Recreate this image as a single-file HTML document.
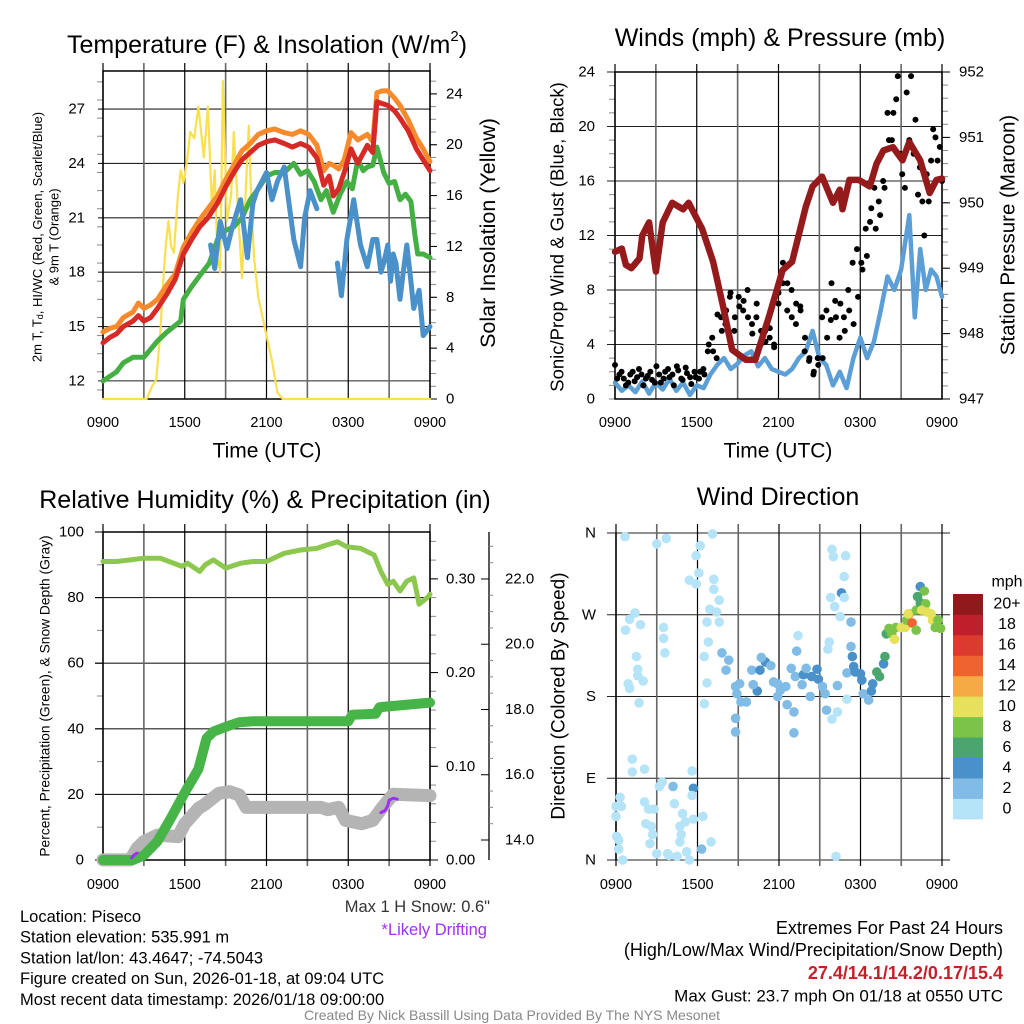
<!DOCTYPE html>
<html><head><meta charset="utf-8"><style>
body{margin:0;background:#fff;width:1024px;height:1024px;overflow:hidden}
svg{display:block;font-family:"Liberation Sans",Arial,sans-serif}
</style></head><body>
<svg id="s" width="1024" height="1024" viewBox="0 0 1024 1024"></svg>
<script>
// ---------- DATA ----------
const xTickLabels=["0900","1500","2100","0300","0900"];
// Top-left: temperature panel
const tHours=[0,0.5,1,1.5,2.2,2.6,3,3.5,4,4.7,5.3,5.9,6.5,7.1,7.7,8.4,9,9.6,10.2,10.8,11.4,12,12.6,13.3,13.9,14.5,15.1,15.7,16.2,16.6,16.9,17.3,17.7,18.2,18.7,19.4,19.8,20.1,20.5,20.9,21.4,21.8,22.4,23,23.5,24];
const tempVals=[14.1,14.4,14.6,15.0,15.3,15.6,15.3,15.5,16.0,16.8,17.6,19.0,19.8,20.5,21.0,21.8,22.7,23.5,24.2,24.6,25.0,25.2,25.3,25.1,24.9,25.1,24.9,24.3,22.8,23.3,22.2,22.6,23.5,24.8,24.0,25.0,24.6,27.4,27.3,27.2,26.9,26.5,25.8,24.8,24.2,23.6];
const t9Vals=[14.7,14.9,15.0,15.5,15.8,16.3,16.0,16.2,16.5,17.3,17.9,19.4,20.2,20.9,21.5,22.2,23.1,23.9,24.7,25.1,25.6,25.8,25.9,25.7,25.6,25.8,25.6,25.0,23.6,24.0,23.9,23.7,24.2,25.7,25.3,25.6,25.2,27.9,28.0,28.0,27.6,27.2,26.4,25.4,24.8,24.1];
const dHours=[0,1,1.5,2.2,3,4,4.7,5.2,5.7,5.9,6.5,7.1,7.8,8.4,9,9.6,10.2,10.8,11.4,12,12.6,13.3,14,14.5,15,15.5,16,16.4,16.9,17.4,17.9,18.3,18.7,19.1,19.4,19.8,20.1,20.6,21,21.4,21.8,22.2,22.6,22.9,23.1,23.5,24];
const dewVals=[12.0,12.5,13.0,13.3,13.3,14.2,14.7,15.0,15.3,16.5,17.2,17.8,18.5,19.8,20.3,20.5,21.0,22.0,22.6,23.3,23.5,23.5,24.0,23.4,23.6,23.0,22.0,22.5,21.3,22.3,23.0,22.6,24.2,23.6,23.8,23.9,24.9,23.5,22.9,23.0,22.0,22.3,21.9,20.0,19.0,19.0,18.8];
const wcHours=[7.9,8.2,8.6,9.1,9.5,10.1,10.6,11.0,11.3,12,12.4,12.8,13.3,13.7,14,14.5,14.8,15.2,15.7,17.2,17.5,17.9,18.4,18.9,19.4,19.8,20.1,20.4,20.6,20.9,21.1,21.3,21.5,21.8,22.0,22.3,22.6,22.8,23.2,23.5,24];
const wcVals=[19.5,18.2,20.8,19.3,20.5,22.0,18.8,21.8,22.5,23.5,22.0,23.0,23.8,21.5,19.8,18.3,21.0,22.5,21.5,18.5,16.7,19.8,22.0,19.5,18.3,19.8,19.8,18.0,18.5,19.5,17.5,19.0,18.5,16.5,17.8,19.5,17.5,16.0,17.0,14.5,15.0];
const solHours=[0,3.2,3.6,3.9,4.2,4.4,4.6,4.8,5.0,5.2,5.5,5.7,5.9,6.2,6.4,6.7,7.0,7.2,7.4,7.7,8.0,8.2,8.4,8.6,8.8,9.1,9.4,9.6,9.9,10.2,10.5,10.7,10.9,11.1,11.4,11.7,12.0,12.4,12.8,13.2,24];
const solVals=[0,0,1,1.5,5,9,12,14,12,11.5,16,18,17,19,21,20.5,23,21,19,23,15,18,11,10,25,14,16,21,15,9.5,17,21.5,15,11,8,6.5,5,3,0.5,0,0];
// Top-right: wind panel
const wHours=[0,0.5,1,1.5,2,2.5,3,3.5,4,4.5,5,5.5,6,6.5,7,7.5,8,8.5,9,9.5,10,10.5,11,11.5,12,12.5,13,13.5,14,14.5,15,15.5,16,16.5,17,17.5,18,18.5,19,19.5,20,20.5,21,21.3,21.6,22,22.4,22.8,23.2,23.6,24];
const windVals=[1.2,0.6,1.0,0.5,1.3,0.4,1.2,0.7,1.5,0.6,1.2,0.3,1.0,0.8,1.8,2.5,3.0,2.2,2.6,3.2,3.5,2.4,3.0,2.2,2.0,1.8,2.2,3.0,3.5,5.0,3.0,2.5,1.0,2.0,0.8,3.0,4.5,3.0,4.2,6.5,9.0,8.0,9.5,11.5,13.5,6.0,11.0,8.0,9.5,9.0,7.5];
const pHours=[0,0.5,0.8,1.2,1.8,2,2.5,3.0,3.5,4.2,5,5.4,6.4,7.2,7.9,8.6,9.6,10.3,11.3,12.3,13,14,14.5,15.2,16,16.5,16.7,17.2,17.9,18.7,19.2,19.7,20.4,21.1,21.6,22.4,23.1,23.6,24];
const presVals=[949.25,949.3,949.05,949.0,949.15,949.5,949.7,948.95,949.7,950.0,949.9,950.0,949.6,949.1,948.45,947.75,947.6,947.6,948.26,948.97,949.1,949.94,950.25,950.4,950.0,950.2,949.9,950.35,950.35,950.25,950.6,950.8,950.85,950.65,950.93,950.65,950.15,950.35,950.37];
const gustVals=[2.5,1.8,1.5,1.2,2.0,1.6,1.8,1.5,2.0,1.2,1.8,1.5,2.2,1.8,2.4,1.5,2.3,1.6,2.0,1.5,2.2,
 3.5,4.5,3.0,6.0,5.5,7.5,5.0,7.5,6.5,8.0,5.5,6.0,4.0,5.0,4.5,4.0,
 7.0,10.0,8.5,6.0,7.0,6.5,4.5,3.0,2.0,2.5,
 3.0,4.5,8.5,6.0,7.0,5.0,6.5,5.5,7.5,
 9.5,10.5,14.0,12.5,13.5,15.5,19.0,21.0,23.7,16.5,22.5,23.7,20.5,17.0,12.0,14.5,19.8,17.5,16.0];
const gust2Vals=[1.5,2.0,1.0,1.8,1.3,2.2,1.0,1.7,1.4,2.4,1.2,2.0,1.6,1.0,2.1,1.4,1.9,1.1,1.6,2.0,1.8,
 4.0,3.5,6.2,5.0,6.5,7.8,6.0,6.8,7.2,6.0,4.8,7.0,5.0,4.2,5.2,3.8,
 7.8,8.5,6.5,8.0,5.5,6.8,3.5,2.8,1.8,3.0,
 6.0,6.5,5.8,7.2,4.5,6.0,8.0,10.0,11.0,
 10.0,12.5,13.0,15.5,14.5,16.0,21.0,19.0,22.0,18.0,15.5,19.0,18.0,15.0,14.5,16.5,17.5,19.2,18.5];
// Bottom-left: RH / precip / snow
const rhHours=[0,1,2,3,4.2,5.8,6.2,7.1,7.5,8.1,9,10.1,11,12,13.3,14.5,15.7,16.4,17.2,17.9,18.9,19.9,20.4,20.9,21.3,21.8,22.3,22.8,23.2,23.8,24];
const rhVals=[91,91,91.5,92,92,89.5,90.5,88,90,91.5,89,90.5,91,91,93.5,94.5,95,96,97,95.5,95,93,88,84,85,82,85,86,78,80,81];
const prHours=[0,2.2,3,4,5,6,7,7.6,8.1,9,10,11,18,18.3,20,20.3,24];
const precipVals=[0,0,0.005,0.02,0.045,0.072,0.097,0.13,0.137,0.142,0.147,0.148,0.148,0.155,0.156,0.163,0.168];
const snHours=[0,2,2.5,3,4,5.5,6,7,7.5,8.5,9.3,10,10.5,16,16.5,17.3,17.8,19,19.8,20.5,21.3,24];
const snowVals=[13.39,13.39,13.75,13.95,14.15,14.1,14.5,14.97,15.1,15.43,15.48,15.38,15.0,15.0,14.93,15.0,14.6,14.5,14.6,15.0,15.4,15.36];
const drHours=[2.1,2.3,2.5,20.4,20.7,20.9,21.0,21.3,21.6];
const driftVals=[13.45,13.55,13.6,14.84,14.9,15.05,15.22,15.28,15.25];
// Bottom-right: wind direction scatter
const dirHours=[0.66,3.0,3.7,6.2,5.9,6.1,5.4,5.9,7.2,7.2,7.6,6.9,7.4,6.7,7.6,6.8,6.5,6.7,6.5,7.1,1.4,1.0,0.7,1.8,3.5,3.5,3.6,1.5,1.6,1.6,2.0,0.9,1.0,1.7,1.2,1.2,2.1,5.6,0.3,0,0.4,0,0.05,0.2,0.2,0.5,2.1,2.4,2.8,2.2,2.6,2.7,2.5,3.0,3.2,3.4,3.8,3.9,4.5,5.2,5.4,4.2,4.3,4.9,5.1,4.7,4.8,4.7,5.7,5.6,5.7,6.3,6.4,7.0,
7.8,8.3,8.1,8.8,9.1,8.9,8.8,8.8,9.2,9.6,10.0,10.6,10.4,10.1,11.0,10.7,11.4,11.6,11.9,12.1,12.5,11.9,12.6,13.1,13.1,12.9,13.3,13.4,13.2,13.8,13.7,14.0,14.3,14.4,14.8,14.9,15.2,15.4,15.5,15.6,16.3,16.3,15.9,17.0,17.0,17.3,17.4,17.5,17.6,18.0,18.1,18.2,18.6,18.8,18.9,19.2,19.4,19.7,19.8,17.3,16.5,16.6,16.8,15.8,16.1,16.8,16.9,16.0,15.9,16.2,15.7,
19.9,20.1,20.3,20.5,20.6,21.0,21.3,21.4,21.6,21.8,22.1,22.1,22.4,22.7,22.2,22.4,22.8,22.9,23.2,23.3,23.5,23.7,23.9,22.5,21.5];
const dirDeg=[356,348,354,346,335,316,308,304,309,298,286,276,273,262,262,240,224,195,172,359,272,265,253,259,256,244,228,224,210,203,197,194,189,173,111,97,100,98,69,59,59,48,26,22,12,0,64,56,56,40,37,28,18,7,81,86,7,5,4,9,0,81,62,51,42,37,28,20,79,71,45,12,48,20,
228,220,209,191,194,183,156,141,174,174,209,209,186,193,218,223,214,196,194,187,191,180,171,163,140,211,230,247,202,204,193,211,180,202,210,199,191,183,165,232,192,163,155,177,206,235,224,213,207,205,198,183,176,186,194,207,202,216,224,262,268,294,289,289,279,312,335,334,342,4,240,
249,255,249,243,256,256,256,264,271,261,275,253,301,296,290,283,282,273,271,264,256,264,255,275,271];
const dirSpeed=[0.5,0.5,0.5,0.5,0.5,0.5,0.5,0.5,0.5,0.5,0.5,0.5,0.5,0.5,0.5,0.5,0.5,0.5,0.5,0.5,0.5,0.5,0.5,0.5,0.5,0.5,0.5,0.5,0.5,0.5,0.5,0.5,0.5,0.5,0.5,0.5,0.5,0.5,0.5,0.5,0.5,0.5,0.5,0.5,0.5,0.5,0.5,0.5,0.5,0.5,0.5,0.5,0.5,0.5,0.5,0.5,0.5,0.5,0.5,0.5,0.5,3,0.5,0.5,0.5,0.5,0.5,0.5,4,0.5,0.5,3,0.5,0.5,
3,2,3,2,2,2,3,3,2,2,3,4,4,3,4,2,3,3,2,2,2,2,2,2,2,3,2,1,2,4,2,2,2,4,4,4,2,3,3,1,3,1,1,1,2,3,4,4,4,4,4,3,3,4,4,6,6,4,6,3,0.5,4,1,1,0.5,0.5,0.5,0.5,0.5,0.5,0.5,
7,8,8,10,8,10,10,9,12,15,8,8,4,8,7,6,8,10,10,10,9,8,8,10,10];
const cbLabels=["0","2","4","6","8","10","12","14","16","18","20+"];
const cbColors=["#b5e3f8","#80bce6","#4a90c9","#4aa66e","#7cc34a","#e6e15a","#f6aa45","#ef632f","#dd3a2f","#bf1f2b","#8f191b"];

// ---------- HELPERS ----------
const S=document.getElementById('s');const NS="http://www.w3.org/2000/svg";
function el(tag,attrs,parent){const e=document.createElementNS(NS,tag);for(const k in attrs)e.setAttribute(k,attrs[k]);(parent||S).appendChild(e);return e;}
function txt(x,y,s,size,anchor,parent,extra){const t=el('text',Object.assign({x:x,y:y,'font-size':size,'text-anchor':anchor||'middle','dominant-baseline':'central',fill:'#000'},extra||{}),parent);t.textContent=s;return t;}
function lin(lo,hi,p0,p1){return v=>p0+(v-lo)/(hi-lo)*(p1-p0);}
function grp(name){const g=el('g',{});return g;}
function polyline(g,xs,ys,X,Y,color,w,name){let d='';for(let i=0;i<xs.length;i++){d+=(i?'L':'M')+X(xs[i]).toFixed(1)+','+Y(ys[i]).toFixed(1);}
 const p=el('path',{d:d,fill:'none',stroke:color,'stroke-width':w,'stroke-linejoin':'round','stroke-linecap':'round'},g);
 return p;}
function timeAxis(g,X,y0,y1,labY,gridTop,gridBot){
 for(let i=0;i<=8;i++){const x=X(i*3);const major=i%2==0;
  el('line',{x1:x,y1:gridTop,x2:x,y2:gridBot,stroke:major?'#000':'#666','stroke-width':major?1.2:1.6},g);}
 xTickLabels.forEach((l,i)=>{const t=txt(X(i*6),labY,l,14.5,'middle',g);});
}
function hGrid(g,vals,Y,x0,x1){vals.forEach(v=>el('line',{x1:x0,y1:Y(v),x2:x1,y2:Y(v),stroke:'#222','stroke-width':1.1},g));}
function minorTicks(g,lo,hi,step,Y,x,dir){for(let v=lo;v<=hi+1e-9;v+=step){el('line',{x1:x,y1:Y(v),x2:x+dir*6,y2:Y(v),stroke:'#888','stroke-width':1},g);}}

// ---------- PANEL 1: Temperature ----------
(function(){const g=grp('temperature-panel');
 const X=lin(0,24,103,430),Y=lin(11,29.1,399,71),YR=lin(0,25.8,399,71);
 const t=txt(267,45,'Temperature (F) & Insolation (W/m',25,'middle',g);
 const ts=el('tspan',{'font-size':15,dy:-9},t);ts.textContent='2';const ts2=el('tspan',{'font-size':25,dy:9},t);ts2.textContent=')';
 minorTicks(g,11.5,29,1,Y,103,-1);minorTicks(g,1,25,1,YR,430,1);
 hGrid(g,[12,15,18,21,24,27],Y,98,430);
 [0,4,8,12,16,20,24].forEach(v=>{el('line',{x1:430,y1:YR(v),x2:437,y2:YR(v),stroke:'#000'},g);const l=txt(446,YR(v),String(v),15,'start',g);});
 [12,15,18,21,24,27].forEach(v=>{const l=txt(85,Y(v),String(v),15,'end',g);});
 timeAxis(g,X,71,399,423,63,399);
 el('rect',{x:103,y:71,width:327,height:328,fill:'none',stroke:'#000','stroke-width':1.5},g);
 polyline(g,solHours,solVals,X,YR,'#f9e04f',2.2,'insolation-line');
 polyline(g,dHours,dewVals,X,Y,'#44b044',5,'dewpoint-line');
 polyline(g,tHours,t9Vals,X,Y,'#f78a2c',5,'temp-9m-line');
 polyline(g,tHours,tempVals,X,Y,'#d62a27',5,'temp-2m-line');
 polyline(g,wcHours.slice(0,19),wcVals.slice(0,19),X,Y,'#4a91c9',5,'windchill-line-a');
 polyline(g,wcHours.slice(19),wcVals.slice(19),X,Y,'#4a91c9',5,'windchill-line-b');
 const a=txt(267,451,'Time (UTC)',21,'middle',g);
 const y1=txt(0,0,'2m T, T',13,'middle',g,{transform:'translate(37,237) rotate(-90)'});
 const sb=el('tspan',{'font-size':9,dy:3},y1);sb.textContent='d';const r=el('tspan',{'font-size':13,dy:-3},y1);r.textContent=', HI/WC (Red, Green, Scarlet/Blue)';
 const y2=txt(0,0,'& 9m T (Orange)',13,'middle',g,{transform:'translate(54,237) rotate(-90)'});
 const y3=txt(0,0,'Solar Insolation (Yellow)',21.5,'middle',g,{transform:'translate(488,233) rotate(-90)'});
})();

// ---------- PANEL 2: Winds ----------
(function(){const g=grp('wind-pressure-panel');
 const X=lin(0,24,615,942),Y=lin(0,24,399,72),YP=lin(947,952,399,72);
 const t=txt(780,38,'Winds (mph) & Pressure (mb)',25,'middle',g);
 minorTicks(g,0,24,1,Y,615,-1);minorTicks(g,947,952,0.2,YP,942,1);
 hGrid(g,[4,8,12,16,20,24],Y,607,942);
 [0,4,8,12,16,20,24].forEach(v=>{const l=txt(595,Y(v),String(v),15,'end',g);});
 [947,948,949,950,951,952].forEach(v=>{el('line',{x1:942,y1:YP(v),x2:950,y2:YP(v),stroke:'#000'},g);const l=txt(959,YP(v),String(v),15,'start',g);});
 timeAxis(g,X,72,399,423,64,399);
 el('rect',{x:615,y:72,width:327,height:327,fill:'none',stroke:'#000','stroke-width':1.5},g);
 polyline(g,wHours,windVals,X,Y,'#5b9fd6',4.5,'sustained-wind-line');
 const gx=i=>X(i*24/(gustVals.length-1));
 gustVals.forEach((v,i)=>{const c=el('circle',{cx:gx(i),cy:Y(v),r:3,fill:'#000'},g);});
 gust2Vals.forEach((v,i)=>{const c=el('circle',{cx:X((i+0.5)*24/(gust2Vals.length)),cy:Y(v),r:3,fill:'#000'},g);});
 polyline(g,pHours,presVals,X,YP,'#951a1b',6.5,'pressure-line');
 const a=txt(778,451,'Time (UTC)',21,'middle',g);
 const y1=txt(0,0,'Sonic/Prop Wind & Gust (Blue, Black)',18.5,'middle',g,{transform:'translate(557,237) rotate(-90)'});
 const y2=txt(0,0,'Station Pressure (Maroon)',20.5,'middle',g,{transform:'translate(1008,235) rotate(-90)'});
})();

// ---------- PANEL 3: RH / precip ----------
(function(){const g=grp('humidity-precip-panel');
 const X=lin(0,24,103,430),Y=lin(0,100,860,532),YP=lin(0,0.35,860,532),YS=lin(13.387,23.44,860,532);
 const t=txt(265,500,'Relative Humidity (%) & Precipitation (in)',25,'middle',g);
 minorTicks(g,10,90,20,Y,103,-1);minorTicks(g,0.02,0.34,0.02,YP,430,1);
 hGrid(g,[20,40,60,80],Y,95,430);
 [0,20,40,60,80,100].forEach(v=>{el('line',{x1:95,y1:Y(v),x2:103,y2:Y(v),stroke:'#000'},g);const l=txt(84,Y(v),String(v),15,'end',g);});
 [0,0.1,0.2,0.3].forEach(v=>{el('line',{x1:430,y1:YP(v),x2:438,y2:YP(v),stroke:'#000'},g);const l=txt(446,YP(v),v.toFixed(2),15,'start',g);});
 el('line',{x1:489,y1:532,x2:489,y2:860,stroke:'#000','stroke-width':1.3},g);
 for(let v=14;v<=23;v+=0.5){el('line',{x1:489,y1:YS(v),x2:v%2==0?481:493,y2:YS(v),stroke:v%2==0?'#000':'#888'},g);}
 [14,16,18,20,22].forEach(v=>{const l=txt(505,YS(v),v.toFixed(1),15,'start',g);});
 timeAxis(g,X,532,860,885,524,866);
 el('rect',{x:103,y:532,width:327,height:328,fill:'none',stroke:'#000','stroke-width':1.5},g);
 polyline(g,snHours,snowVals,X,YS,'#b4b4b4',13,'snow-depth-line');
 polyline(g,prHours,precipVals,X,YP,'#46b446',10,'precip-line');
 polyline(g,drHours.slice(0,3),driftVals.slice(0,3),X,YS,'#a030f0',3,'drift-line-a');
 polyline(g,drHours.slice(3),driftVals.slice(3),X,YS,'#a030f0',3,'drift-line-b');
 polyline(g,rhHours,rhVals,X,Y,'#8cc84f',5,'rh-line');
 const y1=txt(0,0,'Percent, Precipitation (Green), & Snow Depth (Gray)',13.8,'middle',g,{transform:'translate(45,696) rotate(-90)'});
 const m=txt(490,907,'Max 1 H Snow: 0.6"',16.5,'end',g,{fill:'#333'});
 const d=txt(487,930,'*Likely Drifting',16.5,'end',g,{fill:'#a030f0'});
})();

// ---------- PANEL 4: Wind direction ----------
(function(){const g=grp('wind-direction-panel');
 const X=lin(0,24,616,942),Y=lin(0,360,860,533);
 const t=txt(778,497,'Wind Direction',25,'middle',g);
 hGrid(g,[0,90,180,270,360],Y,607,950);
 ["N","E","S","W","N"].forEach((l,i)=>{const e=txt(596,Y(i*90),l,15,'end',g);});
 timeAxis(g,X,533,860,885,524,866);
 el('line',{x1:616,y1:533,x2:616,y2:860,stroke:'#000','stroke-width':1.5},g);
 dirHours.forEach((h,i)=>{const b=Math.min(10,Math.floor(dirSpeed[i]/2));const c=el('circle',{cx:X(h),cy:Y(dirDeg[i]),r:4.8,fill:cbColors[b]},g);});
 const y1=txt(0,0,'Direction (Colored By Speed)',19,'middle',g,{transform:'translate(559,696) rotate(-90)'});
 const cb=grp('speed-colorbar');
 const h=225/11;
 cbColors.forEach((c,i)=>{const r=el('rect',{x:953,y:819-(i+1)*h,width:30,height:h+0.4,fill:c},cb);
  const l=txt(1007,819-(i+0.5)*h,cbLabels[i],16,'middle',cb);});
 const u=txt(1007,582,'mph',16,'middle',cb);
})();

// ---------- FOOTER ----------
(function(){const g=grp('footer-info');
 ["Location: Piseco","Station elevation: 535.991 m","Station lat/lon: 43.4647; -74.5043","Figure created on Sun, 2026-01-18, at 09:04 UTC","Most recent data timestamp: 2026/01/18 09:00:00"].forEach((s,i)=>{const t=txt(20,917+i*20.7,s,16.5,'start',g);});
 const e1=txt(1003,928,'Extremes For Past 24 Hours',18,'end',g);
 const e2=txt(1003,950,'(High/Low/Max Wind/Precipitation/Snow Depth)',18,'end',g);
 const e3=txt(1003,973,'27.4/14.1/14.2/0.17/15.4',18,'end',g,{fill:'#c8202a','font-weight':'bold'});
 const e4=txt(1003,996,'Max Gust: 23.7 mph On 01/18 at 0550 UTC',17,'end',g);
 const c=txt(512,1015,'Created By Nick Bassill Using Data Provided By The NYS Mesonet',14,'middle',g,{fill:'#888'});
})();
</script>
</body></html>
